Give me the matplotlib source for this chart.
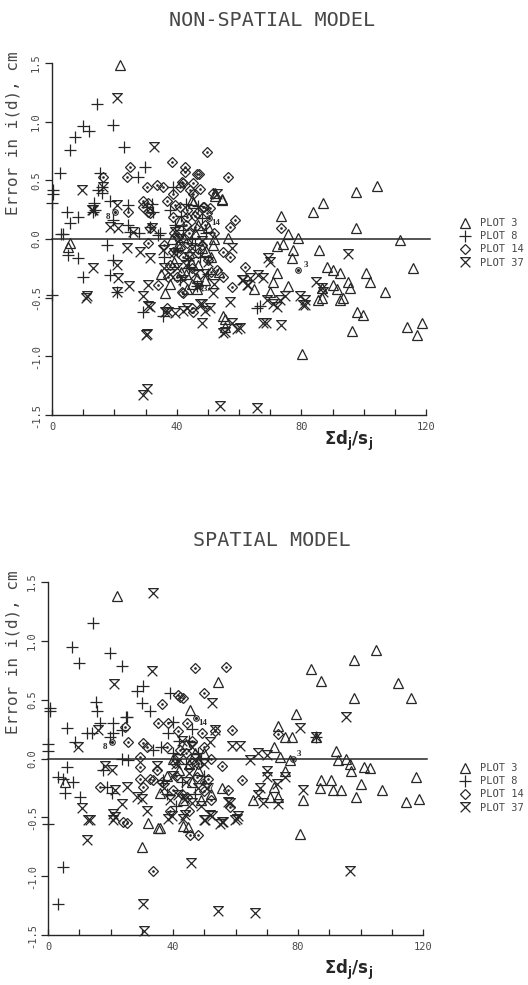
import matplotlib
matplotlib.use('Agg')
import matplotlib.pyplot as plt
from matplotlib.path import Path
from matplotlib.lines import Line2D
import numpy as np

plt.rcParams['font.family'] = 'DejaVu Sans Mono'
plt.rcParams['mathtext.fontset'] = 'dejavusans'

# ---------------- data ----------------
# NON-SPATIAL MODEL
ns_p3 = [(21.8, 1.48), (5.8, -0.03), (5.1, -0.07), (45.0, 0.33), (45.2, 0.31), (52.3, 0.39), (54.5, 0.33),
         (52.3, 0.37), (54.5, 0.34), (56.5, 0.01), (36.3, -0.46), (43.3, -0.43), (46.5, -0.43), (54.9, -0.66),
         (55.5, -0.68), (55.5, -0.75), (64.8, -0.43), (70.0, -0.45), (70.9, -0.37), (72.2, -0.29), (75.7, -0.40),
         (77.0, -0.16), (77.3, -0.09), (72.2, -0.06), (74.0, -0.04), (75.7, 0.04), (78.9, 0.01), (73.5, 0.20),
         (83.8, 0.23), (86.9, 0.31), (97.5, 0.40), (104.3, 0.45), (97.5, 0.09), (111.6, -0.01), (85.7, -0.09),
         (90.2, -0.26), (88.2, -0.24), (92.4, -0.29), (100.7, -0.29), (115.8, -0.25), (102.0, -0.37),
         (106.8, -0.45), (90.2, -0.39), (91.4, -0.43), (93.4, -0.50), (95.0, -0.37), (95.6, -0.42), (86.6, -0.42),
         (86.6, -0.50), (97.8, -0.62), (99.8, -0.65), (96.2, -0.78), (113.9, -0.75), (118.7, -0.72),
         (117.1, -0.82), (80.2, -0.98), (85.3, -0.52), (92.4, -0.52),
         (40.5, -0.05), (42.0, 0.02), (44.0, -0.12), (46.0, 0.05), (48.0, -0.08), (50.0, 0.10), (47.0, -0.22),
         (43.0, -0.30), (49.0, -0.35), (51.0, -0.15), (39.0, -0.20), (52.0, 0.00), (45.0, -0.38), (41.0, 0.15),
         (53.5, -0.28), (38.0, -0.38), (35.0, -0.30), (47.0, 0.12), (44.5, -0.20), (49.5, -0.10), (41.5, -0.28),
         (46.5, -0.33), (51.5, -0.05), (38.5, 0.00)]
ns_p8 = [(14.4, 1.15), (19.6, 0.97), (9.9, 0.96), (11.9, 0.92), (7.4, 0.87), (5.8, 0.76), (23.1, 0.78),
         (2.6, 0.56), (0.3, 0.42), (0.3, 0.38), (0.0, 0.31), (15.4, 0.56), (14.8, 0.42), (16.0, 0.44), (16.0, 0.39),
         (27.6, 0.53), (29.8, 0.61), (13.5, 0.31), (13.8, 0.25), (13.2, 0.23), (4.8, 0.23), (8.3, 0.19),
         (5.8, 0.14), (3.5, 0.04), (2.8, 0.04), (19.6, 0.16), (24.4, 0.12), (25.0, 0.06), (34.6, 0.05),
         (32.4, 0.23), (24.4, 0.29), (18.6, 0.32), (38.8, 0.44), (30.5, 0.27), (31.4, 0.10), (34.0, 0.03),
         (17.6, -0.05), (5.1, -0.14), (8.3, -0.16), (9.9, -0.32), (18.6, -0.31), (19.6, -0.18), (20.8, -0.45),
         (0.0, -0.48), (29.2, -0.62), (35.6, -0.66), (65.8, -0.59), (66.7, -0.57),
         (38.0, 0.25), (40.0, -0.10), (42.0, 0.08), (44.0, -0.25), (46.0, -0.05), (48.0, 0.18), (36.0, -0.15),
         (50.0, -0.30), (43.0, 0.30), (41.0, -0.35), (47.0, 0.28), (32.0, 0.30), (28.0, 0.05), (45.0, 0.00),
         (47.5, -0.15), (39.5, 0.12), (43.5, -0.18), (49.5, 0.05), (41.5, 0.20), (46.5, -0.40)]
ns_p14 = [(49.7, 0.74), (56.5, 0.53), (38.5, 0.66), (25.0, 0.61), (24.0, 0.53), (16.4, 0.53), (42.7, 0.57),
          (47.2, 0.55), (30.5, 0.44), (33.7, 0.46), (35.6, 0.44), (41.7, 0.49), (41.0, 0.44), (44.3, 0.42),
          (45.2, 0.38), (47.5, 0.43), (36.9, 0.32), (38.8, 0.38), (29.2, 0.27), (30.8, 0.31), (24.4, 0.23),
          (51.7, 0.39), (48.8, 0.27), (58.7, 0.16), (57.1, 0.10), (43.3, 0.25), (41.0, 0.27), (45.9, 0.20),
          (31.4, 0.22), (38.8, 0.19), (42.7, 0.61), (46.5, 0.55), (42.0, 0.48), (45.2, 0.48), (48.4, 0.27),
          (50.7, 0.26), (39.5, 0.29), (29.2, 0.32), (30.8, 0.23), (49.7, 0.22), (43.3, 0.19), (46.5, 0.22),
          (31.4, 0.09), (30.8, -0.03), (40.4, 0.02), (43.3, -0.03), (38.8, -0.11), (42.0, -0.15), (54.9, -0.11),
          (57.1, -0.15), (61.9, -0.24), (57.7, -0.41), (44.9, -0.59), (45.2, -0.62), (52.9, -0.26), (54.9, -0.32),
          (37.2, -0.32), (40.1, -0.32), (41.7, -0.45), (34.0, -0.39), (36.9, -0.59), (73.5, 0.09), (42.0, -0.46),
          (48.0, -0.05), (50.0, -0.18), (46.0, 0.10), (39.0, 0.05), (52.0, 0.05), (36.0, -0.05), (44.0, 0.05),
          (47.0, -0.12), (41.0, -0.08), (49.0, 0.12), (45.0, -0.25), (51.0, -0.28), (43.0, 0.12), (38.0, -0.22)]
ns_p37 = [(20.8, 1.20), (32.7, 0.78), (9.6, 0.42), (16.4, 0.44), (13.2, 0.25), (12.8, 0.25), (20.8, 0.29),
          (18.6, 0.10), (21.2, 0.09), (26.0, 0.06), (39.5, 0.06), (32.1, 0.09), (24.0, -0.08), (28.2, -0.11),
          (31.4, -0.16), (20.8, -0.22), (13.2, -0.25), (21.2, -0.33), (11.2, -0.49), (20.8, -0.45), (24.7, -0.40),
          (30.8, -0.39), (29.2, -0.49), (31.4, -0.58), (30.5, -0.81), (35.6, -0.09), (37.2, -0.62), (39.5, -0.63),
          (43.3, -0.59), (48.1, -0.55), (49.1, -0.61), (48.1, -0.72), (51.7, -0.46), (52.9, 0.38), (57.7, -0.08),
          (55.5, -0.79), (57.7, -0.72), (60.3, -0.76), (61.0, -0.35), (62.6, -0.39), (57.1, -0.54), (69.3, -0.16),
          (70.0, -0.20), (61.3, -0.35), (63.5, -0.33), (66.1, -0.31), (67.7, -0.33), (62.9, -0.39), (69.0, -0.52),
          (70.9, -0.55), (73.1, -0.52), (74.8, -0.49), (68.7, -0.72), (73.5, -0.73), (79.6, -0.49), (81.2, -0.52),
          (81.2, -0.56), (84.7, -0.37), (86.6, -0.42), (86.9, -0.45), (95.0, -0.13), (42.0, -0.61), (47.5, -0.55),
          (50.7, -0.59), (29.2, -1.33), (30.5, -1.28), (53.9, -1.42), (65.8, -1.44), (30.2, -0.82), (54.9, -0.80),
          (59.4, -0.77), (67.7, -0.72), (72.2, -0.58), (80.5, -0.56), (36.3, -0.62), (30.8, -0.57), (10.9, -0.50),
          (40.0, -0.25), (44.0, -0.15), (46.0, -0.30), (48.0, -0.02), (38.0, -0.30), (50.0, -0.20), (42.0, -0.35),
          (45.0, -0.08), (41.0, 0.00), (47.0, -0.40), (43.0, -0.22), (49.0, -0.30), (39.0, -0.12), (52.0, -0.38),
          (36.0, -0.25)]

# SPATIAL MODEL
sp_p3 = [(22.0, 1.38), (54.3, 0.65), (104.8, 0.92), (97.8, 0.84), (84.3, 0.76), (87.2, 0.66), (112.1, 0.64),
         (97.8, 0.51), (116.3, 0.51), (79.2, 0.38), (73.5, 0.28), (75.7, 0.18), (78.0, 0.18), (72.2, 0.10),
         (74.1, 0.01), (77.3, -0.01), (92.0, 0.06), (92.7, -0.01), (95.5, 0.00), (96.5, -0.05), (97.1, -0.11),
         (101.0, -0.07), (102.9, -0.08), (117.6, -0.16), (100.3, -0.22), (107.0, -0.27), (87.5, -0.18),
         (90.7, -0.18), (86.9, -0.25), (91.1, -0.27), (93.9, -0.27), (98.4, -0.33), (114.4, -0.37),
         (118.8, -0.34), (75.7, -0.11), (72.2, -0.24), (70.9, -0.33), (73.5, -0.33), (65.5, -0.35), (81.5, -0.35),
         (80.5, -0.64), (43.1, -0.35), (44.7, -0.58), (55.6, -0.25), (30.0, -0.75), (32.0, -0.55), (35.8, -0.59),
         (35.2, -0.59), (43.1, -0.57), (45.4, 0.41), (5.4, -0.20), (35.8, -0.29), (85.9, 0.18),
         (40.0, 0.00), (44.0, 0.12), (48.0, -0.10), (50.0, 0.05), (46.0, -0.20), (52.0, -0.30), (38.0, -0.15),
         (42.0, -0.10), (47.0, 0.05), (49.0, -0.35), (45.0, -0.05)]
sp_p8 = [(14.4, 1.15), (7.7, 0.95), (9.9, 0.81), (19.8, 0.90), (23.6, 0.79), (28.4, 0.57), (30.4, 0.62),
         (15.3, 0.48), (15.7, 0.40), (30.0, 0.47), (32.6, 0.40), (39.0, 0.56), (24.9, 0.35), (0.6, 0.43),
         (0.6, 0.40), (16.6, 0.30), (6.1, 0.26), (12.5, 0.22), (14.1, 0.22), (20.8, 0.30), (20.8, 0.22),
         (25.2, 0.35), (23.6, 0.24), (19.8, 0.18), (8.6, 0.14), (0.0, 0.12), (0.0, 0.06), (33.5, 0.07),
         (23.6, 0.00), (25.6, -0.01), (6.1, -0.07), (17.6, -0.10), (3.2, -0.16), (4.8, -0.17), (8.0, -0.20),
         (5.4, -0.29), (10.2, -0.33), (18.8, -0.24), (20.4, -0.29), (36.7, -0.18), (39.9, 0.31), (38.3, 0.22),
         (0.0, -0.56), (4.8, -0.92), (3.2, -1.24), (85.9, 0.18),
         (42.0, 0.15), (44.0, -0.05), (46.0, 0.25), (48.0, 0.05), (38.0, -0.30), (41.0, -0.40), (50.0, -0.15),
         (36.0, 0.10), (40.0, 0.05), (45.0, 0.15), (47.0, -0.30), (43.0, -0.20), (49.0, 0.00)]
sp_p14 = [(47.0, 0.77), (56.9, 0.78), (49.8, 0.56), (42.2, 0.52), (36.4, 0.46), (41.5, 0.54), (43.1, 0.51),
          (35.1, 0.30), (38.3, 0.30), (44.4, 0.30), (41.5, 0.23), (58.8, 0.24), (53.4, 0.23), (49.2, 0.22),
          (24.6, 0.27), (25.6, 0.14), (30.4, 0.13), (31.6, 0.10), (29.4, 0.01), (29.4, -0.07), (29.4, -0.17),
          (16.6, -0.24), (30.4, -0.24), (33.5, -0.18), (36.4, -0.20), (39.9, -0.27), (25.2, -0.55), (44.4, -0.33),
          (45.4, -0.65), (47.9, -0.65), (57.5, -0.27), (62.0, -0.18), (55.6, -0.06), (46.0, -0.04), (42.2, 0.07),
          (40.6, -0.04), (32.6, -0.17), (47.6, -0.16), (51.1, -0.17), (73.5, 0.21), (58.1, -0.41), (33.5, -0.96),
          (24.0, -0.54), (50.0, 0.10), (45.0, -0.45), (52.0, -0.35), (39.0, -0.45), (41.0, -0.15), (44.0, 0.05),
          (46.0, 0.15), (48.0, -0.05), (43.0, -0.30), (50.0, -0.28), (38.0, 0.10), (52.0, 0.00), (35.0, -0.10)]
sp_p37 = [(33.5, 1.41), (33.2, 0.74), (21.1, 0.63), (52.4, 0.47), (95.5, 0.35), (80.5, 0.26), (85.9, 0.18),
          (67.1, 0.05), (70.0, 0.03), (64.5, -0.01), (70.0, -0.11), (70.0, -0.16), (61.3, 0.11), (58.8, 0.11),
          (75.7, -0.16), (73.2, -0.22), (67.7, -0.25), (68.7, -0.38), (73.5, -0.39), (67.1, -0.31), (81.5, -0.27),
          (58.1, -0.38), (60.7, -0.49), (55.9, -0.54), (52.4, -0.49), (50.2, -0.52), (39.6, -0.49), (43.8, -0.48),
          (12.5, -0.69), (45.7, -0.89), (30.4, -1.24), (54.3, -1.30), (66.1, -1.31), (30.7, -1.47), (96.5, -0.96),
          (20.8, -0.52), (12.8, -0.52), (49.8, -0.52), (54.9, -0.56), (59.7, -0.52), (9.6, 0.10), (16.0, 0.24),
          (18.2, -0.06), (20.4, -0.10), (21.4, -0.27), (25.2, -0.24), (10.9, -0.42), (13.4, -0.52), (20.8, -0.47),
          (21.4, -0.50), (23.6, -0.39), (28.4, -0.33), (30.0, -0.34), (31.6, -0.45), (34.8, -0.06), (38.3, -0.51),
          (43.1, -0.51), (51.8, -0.48), (55.6, -0.54), (60.4, -0.51), (57.5, -0.37), (41.5, -0.31), (43.8, -0.34),
          (53.4, 0.24), (51.8, 0.14), (42.0, 0.00), (46.0, 0.10), (48.0, -0.25), (40.0, -0.15), (50.0, -0.05),
          (44.0, -0.20), (41.0, -0.05), (45.0, -0.12), (47.0, 0.00), (43.0, 0.15), (49.0, -0.40), (39.0, -0.35),
          (51.0, -0.25), (37.0, -0.25), (46.0, -0.38)]

# labelled (circled) points: number, point x, point y, text x, text y
ns_marks = [('8', 20.2, 0.23, 17.2, 0.19), ('14', 50.5, 0.18, 51.0, 0.14), ('37', 47.5, -0.40, 48.5, -0.43),
            ('3', 78.9, -0.26, 80.6, -0.22)]
sp_marks = [('8', 20.4, 0.14, 17.4, 0.10), ('14', 47.5, 0.34, 48.2, 0.30), ('37', 49.5, -0.20, 50.5, -0.24),
            ('3', 78.3, 0.00, 79.6, 0.04)]

legend_labels = ['PLOT 3', 'PLOT 8', 'PLOT 14', 'PLOT 37']
yticks = [-1.5, -1.0, -0.5, 0.0, 0.5, 1.0, 1.5]
ytick_labels = ['-1.5', '-1.0', '-0.5', '0.0', '0.5', '1.0', '1.5']

# X with a bar on top (plot 37 symbol)
xbar = Path([(-1, -1), (1, 1), (-1, 1), (1, -1)],
            [Path.MOVETO, Path.LINETO, Path.LINETO, Path.LINETO])
ink = '#262626'
txt = '#484848'


def draw_panel(ax, series, marks):
    p3, p8, p14, p37 = [np.array(s) for s in series]
    kw = dict(linestyle='none', color=ink, mfc='none', mew=0.9, clip_on=False)
    ax.plot(p3[:, 0], p3[:, 1], marker='^', ms=6.5, **kw)
    ax.plot(p8[:, 0], p8[:, 1], marker='+', ms=8, **kw)
    ax.plot(p14[:, 0], p14[:, 1], marker='D', ms=5, **kw)
    ax.plot(p14[:, 0], p14[:, 1], marker='.', ms=2, **kw)
    ax.plot(p37[:, 0], p37[:, 1], marker=xbar, ms=7, **kw)
    ax.plot([0, 121.3], [0, 0], color=ink, lw=1.1, clip_on=False)
    for lab, px, py, tx, ty in marks:
        ax.plot(px, py, marker='o', ms=4, mfc='none', mec=ink, mew=0.8)
        ax.plot(px, py, marker='.', ms=2.5, color=ink)
        ax.text(tx, ty, lab, family='Liberation Serif', weight='bold', fontsize=6.5,
                color=ink, ha='left', va='center')

    ax.set_xlim(0, 120)
    ax.set_ylim(-1.5, 1.5)
    for s in ['top', 'right']:
        ax.spines[s].set_visible(False)
    for s in ['left', 'bottom']:
        ax.spines[s].set_color(ink)
        ax.spines[s].set_linewidth(1.0)
    ax.set_xticks([0, 40, 80, 120])
    ax.set_xticks(np.arange(10, 120, 10), minor=True)
    ax.set_yticks(yticks)
    ax.set_yticklabels(ytick_labels, rotation=90, va='center')
    ax.tick_params(axis='x', which='both', direction='in', length=4, width=0.9, color=ink,
                   labelsize=7.5, pad=5, labelcolor=txt)
    ax.tick_params(axis='y', direction='out', length=5, width=0.9, color=ink,
                   labelsize=7.5, pad=3, labelcolor=txt)
    ax.patch.set_visible(False)


W, H = 528, 985
fig = plt.figure(figsize=(W / 100, H / 100), dpi=100)

ax1 = fig.add_axes([52 / W, 1 - 415 / H, 374 / W, 352 / H])
draw_panel(ax1, [ns_p3, ns_p8, ns_p14, ns_p37], ns_marks)
ax2 = fig.add_axes([48 / W, 1 - 935 / H, 375 / W, 353 / H])
draw_panel(ax2, [sp_p3, sp_p8, sp_p14, sp_p37], sp_marks)

for ax, title, ty, ly, xy in [(ax1, 'NON-SPATIAL MODEL', 20, 133, 441), (ax2, 'SPATIAL MODEL', 541, 652, 970)]:
    fig.text(272 / W, 1 - ty / H, title, ha='center', va='center', fontsize=14.5, color=txt)
    fig.text(13 / W, 1 - ly / H, 'Error in i(d), cm', rotation=90, ha='center', va='center',
             fontsize=11.5, color=txt)
    fig.text(349 / W, 1 - xy / H, r'$\mathbf{\Sigma d_j/s_j}$', ha='center', va='center',
             fontsize=12, color=ink)

# legends
handles = [Line2D([], [], ls='none', marker='^', ms=6.5, mfc='none', mec=ink, mew=0.9),
           Line2D([], [], ls='none', marker='+', ms=8, mec=ink, mew=0.9),
           Line2D([], [], ls='none', marker='D', ms=5, mfc='none', mec=ink, mew=0.9),
           Line2D([], [], ls='none', marker=xbar, ms=7, mfc='none', mec=ink, mew=0.9)]
for ax, top in [(ax1, 213), (ax2, 758)]:
    ax.legend(handles, legend_labels, loc='upper left', bbox_to_anchor=(456 / W, 1 - top / H),
              bbox_transform=fig.transFigure, frameon=False, handlelength=0.8, handletextpad=1.0,
              labelspacing=0.3, borderpad=0, prop={'family': 'DejaVu Sans Mono', 'size': 7.5},
              labelcolor=txt)

fig.savefig('out.png', dpi=100)
